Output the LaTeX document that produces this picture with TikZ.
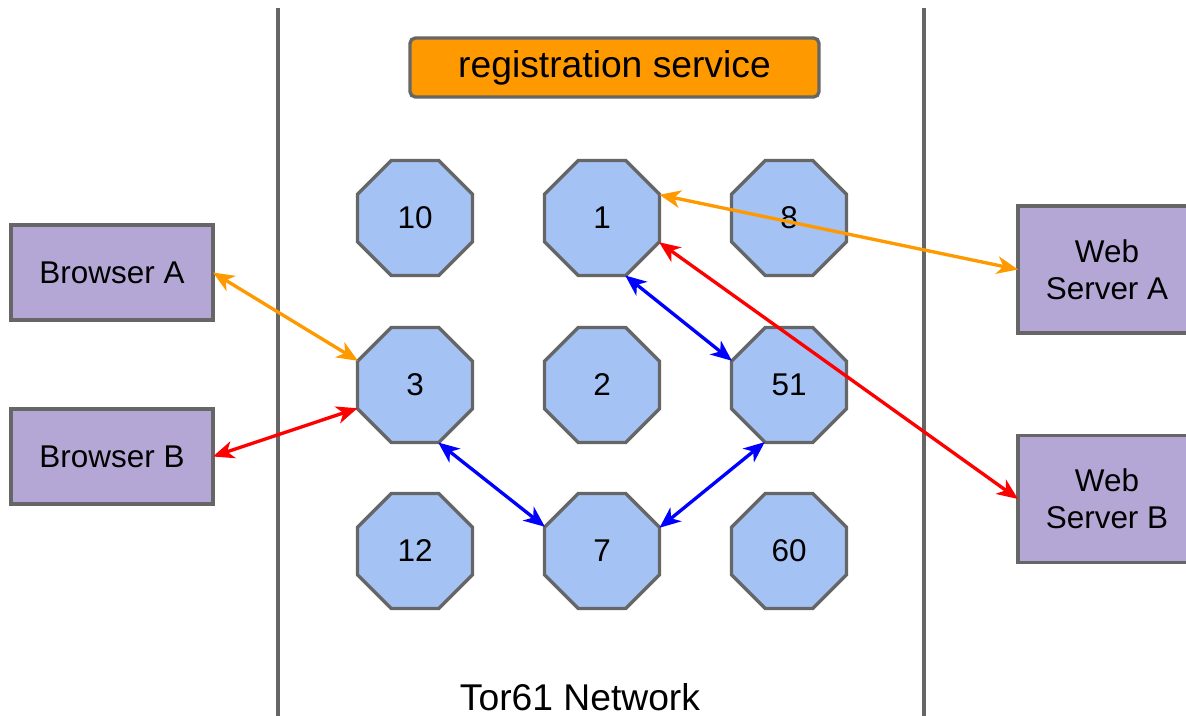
\documentclass[tikz,border=0pt]{standalone}
\usepackage{fontspec}
\setmainfont{Liberation Sans}
\usetikzlibrary{shapes.geometric,arrows.meta}

\definecolor{nodeblue}{HTML}{A4C2F4}
\definecolor{boxpurple}{HTML}{B4A7D6}
\definecolor{regorange}{HTML}{FF9900}
\definecolor{edgegray}{HTML}{666666}

\tikzset{
  router/.style={regular polygon, regular polygon sides=8, minimum size=2.49cm,
    inner sep=0pt, outer sep=0pt, draw=edgegray, fill=nodeblue, line width=1.9pt,
    font=\fontsize{17.9pt}{20pt}\selectfont},
  hostbox/.style={rectangle, draw=edgegray, fill=boxpurple, line width=1.9pt,
    inner sep=0pt, outer sep=0pt, align=center,
    font=\fontsize{17.9pt}{21pt}\selectfont},
  link/.style={line width=1.9pt, {Stealth[length=12pt,width=10pt,inset=3.5pt]}-{Stealth[length=12pt,width=10pt,inset=3.5pt]}},
  divider/.style={draw=edgegray, line width=1.9pt}
}

\begin{document}
\begin{tikzpicture}[x=0.02cm, y=-0.02cm]

  \useasboundingbox (0,0) rectangle (1186,716);
  \clip (0,0) rectangle (1186,716);

  % network boundaries
  \draw[divider] (278,8) -- (278,716);
  \draw[divider] (924,8) -- (924,716);

  \node[rectangle, rounded corners=3pt, draw=edgegray, fill=regorange, line width=1.9pt,
    minimum width=8.18cm, minimum height=1.18cm, font=\fontsize{21.2pt}{24pt}\selectfont]
    (reg) at (614.5,67.5) {\raisebox{-2pt}{registration service}};

  % routers
  \foreach \n/\x/\y in {10/415/218, 1/602/218, 8/789/218,
    3/415/385, 2/602/385, 51/789/385,
    12/415/551, 7/602/551, 60/789/551}
    \node[router] (r\n) at (\x,\y) {\n};

  % clients and servers
  \node[hostbox, minimum width=4.04cm, minimum height=1.9cm] (browserA) at (112,272.5) {Browser A};
  \node[hostbox, minimum width=4.04cm, minimum height=1.9cm] (browserB) at (112,456.5) {Browser B};
  \node[hostbox, minimum width=3.56cm, minimum height=2.54cm] (serverA) at (1107,269.5) {Web\\Server A};
  \node[hostbox, minimum width=3.56cm, minimum height=2.54cm] (serverB) at (1107,499) {Web\\Server B};

  \node[font=\fontsize{21.2pt}{24pt}\selectfont] (tor) at (580,697) {Tor61 Network};

  % circuits
  \draw[link, regorange] (browserA.east) -- (r3.157.5);
  \draw[link, red] (browserB.east) -- (r3.202.5);
  \draw[link, blue] (r3.292.5) -- (r7.157.5);
  \draw[link, blue] (r7.22.5) -- (r51.247.5);
  \draw[link, blue] (r1.292.5) -- (r51.157.5);
  \draw[link, regorange] (r1.22.5) -- (serverA.west);
  \draw[link, red] (r1.337.5) -- (serverB.west);

\end{tikzpicture}
\end{document}
